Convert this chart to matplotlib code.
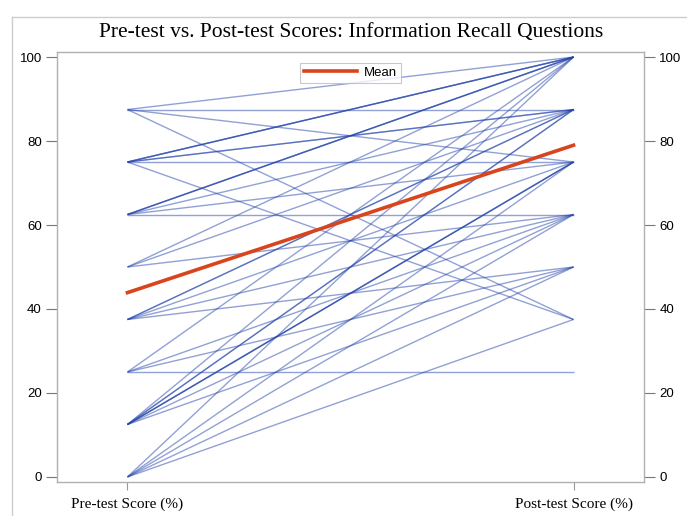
import matplotlib
matplotlib.use('Agg')
import matplotlib.pyplot as plt
from matplotlib.lines import Line2D

# paired scores (pre, post)
pre_scores = [87.5, 87.5, 87.5, 87.5,
              75, 75, 75, 75, 75, 75, 75,
              62.5, 62.5, 62.5, 62.5, 62.5, 62.5,
              50, 50, 50,
              37.5, 37.5, 37.5, 37.5, 37.5,
              25, 25, 25, 25,
              12.5, 12.5, 12.5, 12.5, 12.5, 12.5, 12.5, 12.5,
              0, 0, 0, 0, 0]
post_scores = [100, 87.5, 75, 37.5,
               100, 100, 100, 87.5, 87.5, 75, 37.5,
               100, 100, 100, 87.5, 75, 62.5,
               100, 87.5, 62.5,
               87.5, 87.5, 75, 62.5, 50,
               100, 62.5, 50, 25,
               100, 87.5, 87.5, 75, 75, 75, 62.5, 50,
               100, 75, 62.5, 50, 37.5]
mean_scores = [43.9, 79.0]
x_labels = ['Pre-test Score (%)', 'Post-test Score (%)']
y_ticks = [0, 20, 40, 60, 80, 100]

W, H = 687, 516
fig = plt.figure(figsize=(W / 100, H / 100), dpi=100)
ax = fig.add_axes([57 / W, (H - 482) / H, (644 - 57) / W, 430 / H])

for a, b in zip(pre_scores, post_scores):
    ax.plot([0, 1], [a, b], color='#2444aa', alpha=0.5, lw=1.0,
            solid_capstyle='butt', zorder=2)
ax.plot([0, 1], mean_scores, color='#d9441c', lw=2.6, zorder=3)

sans = ['Liberation Sans', 'DejaVu Sans']
ax.set_xlim(-0.158, 1.158)
ax.set_ylim(-1.2, 101.2)
ax.set_xticks([0, 1])
ax.set_xticklabels(x_labels, family='Liberation Serif', fontsize=11)
ax.set_yticks(y_ticks)
ax.tick_params(axis='y', which='both', left=True, right=True,
               labelleft=True, labelright=True, labelsize=9.5,
               color='#777777', length=8, width=0.8, pad=3)
ax.tick_params(axis='x', color='#999999', length=6, width=0.8, pad=5)
for lab in ax.get_yticklabels():
    lab.set_family(sans)
for s in ax.spines.values():
    s.set_color('#b0b0b0')
    s.set_linewidth(1.0)

handle = Line2D([], [], color='#d9441c', lw=2.6)
leg = ax.legend([handle], ['Mean'], loc='upper center',
                bbox_to_anchor=(0.5, 0.99), fancybox=False,
                prop={'family': sans, 'size': 9.5},
                handlelength=4.0, borderpad=0.3, handletextpad=0.5)
leg.get_frame().set_edgecolor('#bbbbbb')
leg.get_frame().set_linewidth(0.8)

fig.text(351 / W, 1 - 32 / H, 'Pre-test vs. Post-test Scores: Information Recall Questions',
         ha='center', va='center', family='Liberation Serif', fontsize=15.5)

# light outer frame (top and left edges)
fig.add_artist(Line2D([12 / W, 1], [1 - 17 / H, 1 - 17 / H], color='#cccccc', lw=1.0))
fig.add_artist(Line2D([12 / W, 12 / W], [0, 1 - 17 / H], color='#cccccc', lw=1.0))

fig.savefig('out.png', dpi=100)
